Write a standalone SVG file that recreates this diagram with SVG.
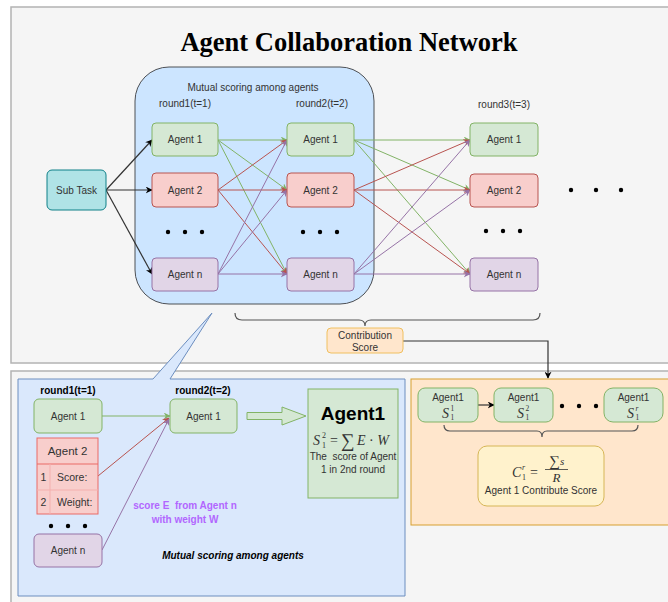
<svg xmlns="http://www.w3.org/2000/svg" width="668" height="602" viewBox="0 0 668 602">
<style>
.t{font-family:"Liberation Sans",Arial,sans-serif;font-size:10px;fill:#333;text-anchor:middle;white-space:pre}
.m{font-family:"Liberation Serif","Times New Roman",serif;fill:#333}
.g{fill:#d5e8d4;stroke:#82b366;stroke-width:1}
.r{fill:#f8cecc;stroke:#b85450;stroke-width:1}
.p{fill:#e1d5e7;stroke:#9673a6;stroke-width:1}
.cg{stroke:#82b366;stroke-width:1;fill:none;marker-end:url(#ag)}
.cr{stroke:#b85450;stroke-width:1;fill:none;marker-end:url(#ar)}
.cp{stroke:#9673a6;stroke-width:1;fill:none;marker-end:url(#ap)}
.ck{stroke:#333;stroke-width:1.2;fill:none;marker-end:url(#ak)}
.dot{fill:#000}
</style>
<defs>
<marker id="ag" viewBox="0 0 10 10" refX="9" refY="5" markerWidth="7" markerHeight="7" markerUnits="userSpaceOnUse" orient="auto"><path d="M0,0 L10,5 L0,10 L3,5 z" fill="#82b366"/></marker>
<marker id="ar" viewBox="0 0 10 10" refX="9" refY="5" markerWidth="7" markerHeight="7" markerUnits="userSpaceOnUse" orient="auto"><path d="M0,0 L10,5 L0,10 L3,5 z" fill="#b85450"/></marker>
<marker id="ap" viewBox="0 0 10 10" refX="9" refY="5" markerWidth="7" markerHeight="7" markerUnits="userSpaceOnUse" orient="auto"><path d="M0,0 L10,5 L0,10 L3,5 z" fill="#9673a6"/></marker>
<marker id="ak" viewBox="0 0 10 10" refX="9" refY="5" markerWidth="7" markerHeight="7" markerUnits="userSpaceOnUse" orient="auto"><path d="M0,0 L10,5 L0,10 L3,5 z" fill="#000"/></marker>
</defs>
<rect x="0" y="0" width="668" height="602" fill="#fff"/>
<g id="top-panel"><rect x="11" y="7" width="670" height="356" fill="#f5f5f5" stroke="#b3b3b3" stroke-width="1.5"/></g>
<g id="bottom-panel"><rect x="11" y="371" width="670" height="240" fill="#f5f5f5" stroke="#b3b3b3" stroke-width="1.5"/></g>
<text x="349" y="51" font-family="Liberation Serif,Times New Roman,serif" font-weight="bold" font-size="26.5" text-anchor="middle" fill="#000">Agent Collaboration Network</text>

<g id="scoring-box">
<rect x="135" y="67" width="239" height="237" rx="34" fill="#cce5ff" stroke="#4d5055" stroke-width="1"/>
<text class="t" x="253" y="91">Mutual scoring among agents</text>
<text class="t" x="185" y="107">round1(t=1)</text>
<text class="t" x="322" y="107">round2(t=2)</text>
</g>
<text class="t" x="504" y="108">round3(t=3)</text>

<g id="connectors">
<line class="ck" x1="106" y1="190" x2="152" y2="140"/>
<line class="ck" x1="106" y1="190" x2="152" y2="190"/>
<line class="ck" x1="106" y1="190" x2="152" y2="274"/>
<line class="cg" x1="218" y1="140" x2="287" y2="140"/>
<line class="cg" x1="218" y1="140" x2="287" y2="190"/>
<line class="cg" x1="218" y1="140" x2="287" y2="274"/>
<line class="cr" x1="218" y1="190" x2="287" y2="140"/>
<line class="cr" x1="218" y1="190" x2="287" y2="190"/>
<line class="cr" x1="218" y1="190" x2="287" y2="274"/>
<line class="cp" x1="218" y1="274" x2="287" y2="140"/>
<line class="cp" x1="218" y1="274" x2="287" y2="190"/>
<line class="cp" x1="218" y1="274" x2="287" y2="274"/>
<line class="cg" x1="354" y1="140" x2="470" y2="140"/>
<line class="cg" x1="354" y1="140" x2="470" y2="190"/>
<line class="cg" x1="354" y1="140" x2="470" y2="274"/>
<line class="cr" x1="354" y1="190" x2="470" y2="140"/>
<line class="cr" x1="354" y1="190" x2="470" y2="190"/>
<line class="cr" x1="354" y1="190" x2="470" y2="274"/>
<line class="cp" x1="354" y1="274" x2="470" y2="140"/>
<line class="cp" x1="354" y1="274" x2="470" y2="190"/>
<line class="cp" x1="354" y1="274" x2="470" y2="274"/>
<path d="M235,313 Q235,320 242,320 L359,320 Q365,320 365,326 Q365,320 371,320 L533,320 Q540,320 540,313" fill="none" stroke="#555" stroke-width="1.2"/>
<polyline class="ck" points="403,341 548,341 548,378"/>
</g>

<g id="subtask"><rect x="47" y="170" width="59" height="40" rx="5" fill="#b0e3e6" stroke="#0e8088" stroke-width="1"/><text class="t" x="76.5" y="194">Sub Task</text></g>

<g id="r1a1"><rect class="g" x="152" y="123" width="66" height="33" rx="4"/><text class="t" x="185" y="143">Agent 1</text></g>
<g id="r1a2"><rect class="r" x="152" y="173" width="66" height="34" rx="4"/><text class="t" x="185" y="194">Agent 2</text></g>
<g id="r1an"><rect class="p" x="152" y="258" width="66" height="33" rx="4"/><text class="t" x="185" y="278">Agent n</text></g>
<g id="r1dots"><circle class="dot" cx="168" cy="232" r="2.2"/><circle class="dot" cx="185" cy="232" r="2.2"/><circle class="dot" cx="202" cy="232" r="2.2"/></g>

<g id="r2a1"><rect class="g" x="287" y="123" width="67" height="33" rx="4"/><text class="t" x="320.5" y="143">Agent 1</text></g>
<g id="r2a2"><rect class="r" x="287" y="173" width="67" height="34" rx="4"/><text class="t" x="320.5" y="194">Agent 2</text></g>
<g id="r2an"><rect class="p" x="287" y="258" width="67" height="33" rx="4"/><text class="t" x="320.5" y="278">Agent n</text></g>
<g id="r2dots"><circle class="dot" cx="303" cy="232" r="2.2"/><circle class="dot" cx="320" cy="232" r="2.2"/><circle class="dot" cx="337" cy="232" r="2.2"/></g>

<g id="r3a1"><rect class="g" x="470" y="123" width="68" height="33" rx="4"/><text class="t" x="504" y="143">Agent 1</text></g>
<g id="r3a2"><rect class="r" x="470" y="174" width="68" height="33" rx="4"/><text class="t" x="504" y="194">Agent 2</text></g>
<g id="r3an"><rect class="p" x="470" y="258" width="68" height="33" rx="4"/><text class="t" x="504" y="278">Agent n</text></g>
<g id="r3dots"><circle class="dot" cx="486" cy="231" r="2.2"/><circle class="dot" cx="503" cy="231" r="2.2"/><circle class="dot" cx="520" cy="231" r="2.2"/></g>
<g id="more-dots"><circle class="dot" cx="571" cy="190" r="2.2"/><circle class="dot" cx="596" cy="190" r="2.2"/><circle class="dot" cx="621" cy="190" r="2.2"/></g>

<g id="contribution"><rect x="327" y="328" width="76" height="25" rx="4" fill="#ffe6cc" stroke="#f0c060" stroke-width="1"/><text class="t" x="365" y="339">Contribution</text><text class="t" x="365" y="351">Score</text></g>

<g id="detail-box">
<path d="M18,379 L153,379 L212,313 L170,379 L405,379 L405,596 L18,596 Z" fill="#dae8fc" stroke="#6c8ebf" stroke-width="1"/>
<text class="t" x="68" y="394" style="font-weight:bold;fill:#000">round1(t=1)</text>
<text class="t" x="203" y="394" style="font-weight:bold;fill:#000">round2(t=2)</text>
<text class="t" x="233" y="559" style="font-weight:bold;font-style:italic;fill:#000">Mutual scoring among agents</text>
<text class="t" x="185" y="509" style="font-weight:bold;fill:#b266ff">score E  from Agent n</text>
<text class="t" x="185" y="523" style="font-weight:bold;fill:#b266ff">with weight W</text>
</g>
<g id="detail-connectors">
<line class="cg" x1="102" y1="416" x2="170" y2="416"/>
<line class="cr" x1="98" y1="476" x2="169" y2="418"/>
<line class="cp" x1="102" y1="550" x2="169" y2="419"/>
<path d="M247,412.5 L282,412.5 L282,407 L306,416 L282,425 L282,419.5 L247,419.5 Z" fill="#d5e8d4" stroke="#82b366" stroke-width="1"/>
</g>
<g id="d-a1"><rect class="g" x="34" y="399" width="68" height="34" rx="5"/><text class="t" x="68" y="420">Agent 1</text></g>
<g id="d-a1r2"><rect class="g" x="170" y="399" width="67" height="34" rx="5"/><text class="t" x="203.5" y="420">Agent 1</text></g>
<g id="d-a2">
<rect x="37" y="438" width="61" height="76" fill="#f8cecc" stroke="#ea6b66" stroke-width="1"/>
<line x1="37" y1="464" x2="98" y2="464" stroke="#ea6b66"/>
<line x1="37" y1="490" x2="98" y2="490" stroke="#f4b0ae"/>
<line x1="50" y1="464" x2="50" y2="514" stroke="#f4b0ae"/>
<text class="t" x="67.5" y="455" style="font-size:11.5px">Agent 2</text>
<text class="t" x="43.5" y="481" style="font-size:10.5px">1</text>
<text class="t" x="57" y="481" style="font-size:10.5px;text-anchor:start">Score:</text>
<text class="t" x="43.5" y="506" style="font-size:10.5px">2</text>
<text class="t" x="57" y="506" style="font-size:10.5px;text-anchor:start">Weight:</text>
</g>
<g id="d-dots"><circle class="dot" cx="51" cy="526" r="2.2"/><circle class="dot" cx="68" cy="526" r="2.2"/><circle class="dot" cx="85" cy="526" r="2.2"/></g>
<g id="d-an"><rect class="p" x="34" y="534" width="68" height="33" rx="5"/><text class="t" x="68" y="554">Agent n</text></g>
<g id="d-agent1">
<rect x="308" y="389" width="90" height="109" fill="#d5e8d4" stroke="#82b366" stroke-width="1"/>
<text x="353" y="420" font-family="Liberation Sans,Arial,sans-serif" font-size="19" font-weight="bold" text-anchor="middle" fill="#000">Agent1</text>
<text class="m" x="313" y="445" font-size="14" font-style="italic">S</text>
<text class="m" x="322" y="438" font-size="8">2</text>
<text class="m" x="322" y="448" font-size="8">1</text>
<text class="m" x="330" y="445" font-size="14">=</text>
<text class="m" x="341" y="447" font-size="19">∑</text>
<text class="m" x="357" y="445" font-size="14"><tspan font-style="italic">E</tspan> · <tspan font-style="italic">W</tspan></text>
<text class="t" x="353" y="460">The  score of Agent</text>
<text class="t" x="353" y="473">1 in 2nd round</text>
</g>

<g id="orange-box"><rect x="411" y="379" width="270" height="146" fill="#ffe6cc" stroke="#d7a030" stroke-width="1"/></g>
<g id="orange-connectors">
<line class="ck" x1="478" y1="405" x2="494" y2="405"/>
<path d="M444,425 Q444,431 450,431 L537,431 Q542,431 542,437 Q542,431 547,431 L632,431 Q638,431 638,425" fill="none" stroke="#555" stroke-width="1.2"/>
</g>
<g id="s1"><rect class="g" x="418" y="388" width="60" height="34" rx="7"/><text class="t" x="448" y="401">Agent1</text><text class="m" x="442" y="418" font-size="14" font-style="italic">S</text><text class="m" x="450.5" y="411" font-size="7.5">1</text><text class="m" x="450.5" y="420" font-size="7.5">1</text></g>
<g id="s2"><rect class="g" x="494" y="388" width="59" height="34" rx="7"/><text class="t" x="523.5" y="401">Agent1</text><text class="m" x="517" y="418" font-size="14" font-style="italic">S</text><text class="m" x="525.5" y="411" font-size="7.5">2</text><text class="m" x="525.5" y="420" font-size="7.5">1</text></g>
<g id="o-dots"><circle class="dot" cx="562" cy="406" r="2.2"/><circle class="dot" cx="579" cy="406" r="2.2"/><circle class="dot" cx="596" cy="406" r="2.2"/></g>
<g id="sr"><rect class="g" x="604" y="388" width="59" height="34" rx="9"/><text class="t" x="633.5" y="401">Agent1</text><text class="m" x="627" y="418" font-size="14" font-style="italic">S</text><text class="m" x="635.5" y="411" font-size="7.5" font-style="italic">r</text><text class="m" x="635.5" y="420" font-size="7.5">1</text></g>
<g id="formula">
<rect x="478" y="446" width="126" height="60" rx="9" fill="#fff2cc" stroke="#d6b656" stroke-width="1"/>
<text class="m" x="512" y="477" font-size="14" font-style="italic">C</text>
<text class="m" x="522" y="470" font-size="8" font-style="italic">r</text>
<text class="m" x="522" y="480" font-size="8">1</text>
<text class="m" x="530" y="477" font-size="14">=</text>
<text class="m" x="549" y="466" font-size="15">∑</text>
<text class="m" x="560" y="465" font-size="11" font-style="italic">s</text>
<line x1="545" y1="469.5" x2="568" y2="469.5" stroke="#333" stroke-width="0.8"/>
<text class="m" x="556.5" y="482" font-size="13" font-style="italic" text-anchor="middle">R</text>
<text class="t" x="541" y="494">Agent 1 Contribute Score</text>
</g>
</svg>
